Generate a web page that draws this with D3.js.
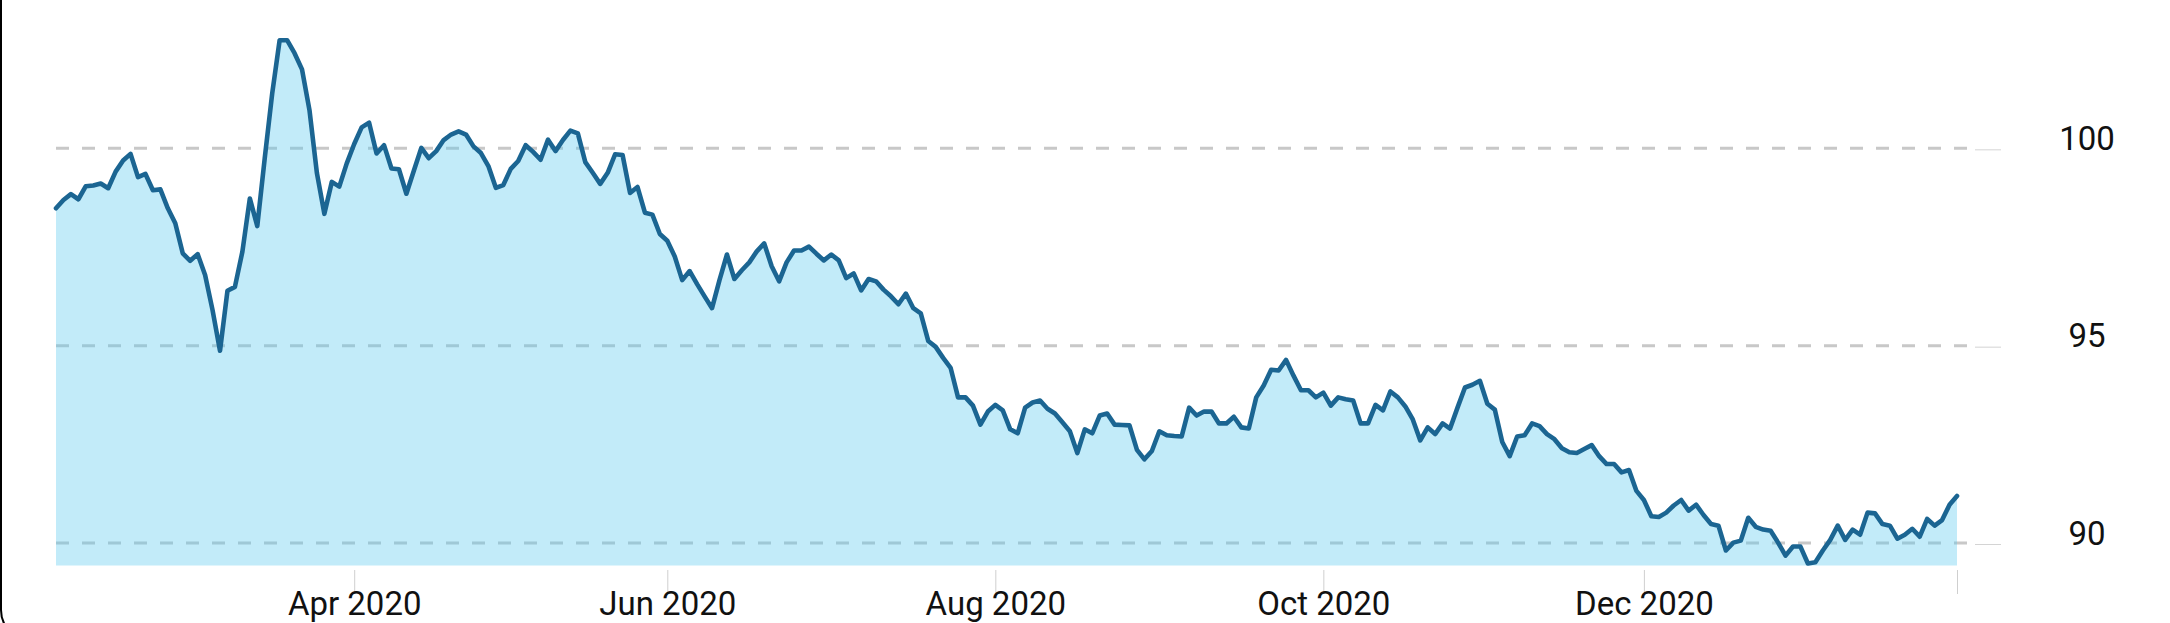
<!DOCTYPE html>
<html>
<head>
<meta charset="utf-8">
<script src="https://cdn.jsdelivr.net/npm/d3@7"></script>
<style>
  html, body { margin: 0; padding: 0; background: #fff; }
  svg { display: block; }
  text { font-family: Roboto, "Noto Sans", sans-serif; }
</style>
</head>
<body>
<svg id="chart" width="2170" height="623"></svg>
<script>
// US dollar index, trading-day series (index-based x axis)
const values = [
  98.48, 98.69, 98.84, 98.71, 99.04, 99.06, 99.11, 98.99, 99.41, 99.69,
  99.86, 99.27, 99.35, 98.94, 98.96, 98.48, 98.10, 97.34, 97.15, 97.32,
  96.79, 95.90, 94.87, 96.39, 96.49, 97.38, 98.73, 98.03, 99.75, 101.39,
  102.74, 102.74, 102.41, 102.00, 100.97, 99.37, 98.34, 99.15, 99.03, 99.62,
  100.11, 100.53, 100.65, 99.87, 100.08, 99.49, 99.47, 98.85, 99.43, 100.01,
  99.75, 99.93, 100.21, 100.35, 100.43, 100.35, 100.05, 99.88, 99.55, 99.00,
  99.07, 99.48, 99.68, 100.08, 99.91, 99.71, 100.22, 99.93, 100.21, 100.45,
  100.38, 99.65, 99.38, 99.10, 99.38, 99.85, 99.83, 98.87, 99.02, 98.37,
  98.32, 97.83, 97.66, 97.26, 96.66, 96.89, 96.56, 96.25, 95.95, 96.66,
  97.31, 96.69, 96.91, 97.11, 97.39, 97.59, 97.01, 96.63, 97.11, 97.41,
  97.41, 97.51, 97.33, 97.16, 97.31, 97.16, 96.71, 96.83, 96.40, 96.69,
  96.63, 96.42, 96.25, 96.05, 96.32, 95.95, 95.82, 95.12, 94.97, 94.69,
  94.44, 93.69, 93.69, 93.48, 93.00, 93.33, 93.50, 93.36, 92.88, 92.78,
  93.43, 93.56, 93.61, 93.40, 93.28, 93.06, 92.83, 92.28, 92.88, 92.78,
  93.23, 93.28, 93.00, 92.99, 92.98, 92.36, 92.12, 92.33, 92.83, 92.73,
  92.71, 92.70, 93.43, 93.23, 93.33, 93.33, 93.03, 93.03, 93.20, 92.93,
  92.90, 93.69, 93.99, 94.39, 94.37, 94.64, 94.24, 93.87, 93.87, 93.69,
  93.81, 93.48, 93.69, 93.64, 93.61, 93.03, 93.03, 93.50, 93.36, 93.84,
  93.69, 93.46, 93.13, 92.60, 92.93, 92.76, 93.03, 92.90, 93.43, 93.94,
  94.01, 94.11, 93.53, 93.38, 92.56, 92.20, 92.70, 92.73, 93.03, 92.96,
  92.76, 92.63, 92.40, 92.30, 92.28, 92.38, 92.48, 92.20, 92.00, 92.00,
  91.79, 91.85, 91.32, 91.09, 90.68, 90.66, 90.77, 90.95, 91.09, 90.82,
  90.97, 90.71, 90.48, 90.44, 89.81, 90.01, 90.06, 90.64, 90.41, 90.34,
  90.31, 90.01, 89.68, 89.91, 89.91, 89.48, 89.51, 89.81, 90.08, 90.44,
  90.08, 90.34, 90.21, 90.77, 90.75, 90.48, 90.44, 90.11, 90.21, 90.36,
  90.16, 90.61, 90.44, 90.58, 90.97, 91.19
];

// x ticks: position (trading-day index) and label
const xTickIndex  = [40, 82, 126, 170, 213, 255];
const xTickLabels = ["Apr 2020", "Jun 2020", "Aug 2020", "Oct 2020", "Dec 2020", ""];

// y ticks
const yTickValues = [90, 95, 100];
const yTickLabels = ["90", "95", "100"];

const svg = d3.select("#chart");

const x = d3.scaleLinear().domain([0, values.length - 1]).range([56, 1957]);
const y = d3.scaleLinear().domain([89.43, 102.76]).range([565.5, 39.4]);

// left frame edge (card border)
svg.append("rect")
  .attr("x", 1).attr("y", -40)
  .attr("width", 3000).attr("height", 680)
  .attr("rx", 30).attr("ry", 30)
  .attr("fill", "none").attr("stroke", "#000").attr("stroke-width", 2);

// dashed gridlines
svg.append("g").selectAll("line")
  .data(yTickValues)
  .join("line")
  .attr("x1", 56).attr("x2", 1968)
  .attr("y1", d => y(d)).attr("y2", d => y(d))
  .attr("stroke", "#c8c8c8")
  .attr("stroke-width", 3)
  .attr("stroke-dasharray", "13,13");

// area
const area = d3.area()
  .x((d, i) => x(i))
  .y0(y(89.43))
  .y1(d => y(d));

svg.append("path")
  .datum(values)
  .attr("d", area)
  .attr("fill", "#5ac8f0")
  .attr("fill-opacity", 0.37);

// line
const line = d3.line()
  .x((d, i) => x(i))
  .y(d => y(d));

svg.append("path")
  .datum(values)
  .attr("d", line)
  .attr("fill", "none")
  .attr("stroke", "#1b6592")
  .attr("stroke-width", 4.6)
  .attr("stroke-linejoin", "round")
  .attr("stroke-linecap", "round");

// x axis
const xAxis = d3.axisBottom(x)
  .tickValues(xTickIndex)
  .tickSize(24)
  .tickFormat((d, i) => xTickLabels[i]);

const gx = svg.append("g")
  .attr("transform", "translate(0,570)")
  .call(xAxis);
gx.select(".domain").remove();
gx.selectAll(".tick line").attr("stroke", "#cfcfcf").attr("stroke-width", 1);
gx.selectAll(".tick text")
  .attr("y", 45).attr("dy", 0)
  .attr("fill", "#111")
  .style("font-size", "33px")
  .style("font-family", "Roboto, sans-serif");

// y axis (right)
const yAxis = d3.axisRight(y)
  .tickValues(yTickValues)
  .tickSize(26)
  .tickFormat((d, i) => yTickLabels[i]);

const gy = svg.append("g")
  .attr("transform", "translate(1975,1)")
  .call(yAxis);
gy.select(".domain").remove();
gy.selectAll(".tick line").attr("stroke", "#d4d4d4").attr("stroke-width", 1);
gy.selectAll(".tick text")
  .attr("x", 112).attr("dy", 0).attr("y", 0)
  .attr("text-anchor", "middle")
  .attr("fill", "#111")
  .style("font-size", "33px")
  .style("font-family", "Roboto, sans-serif");
</script>
</body>
</html>
